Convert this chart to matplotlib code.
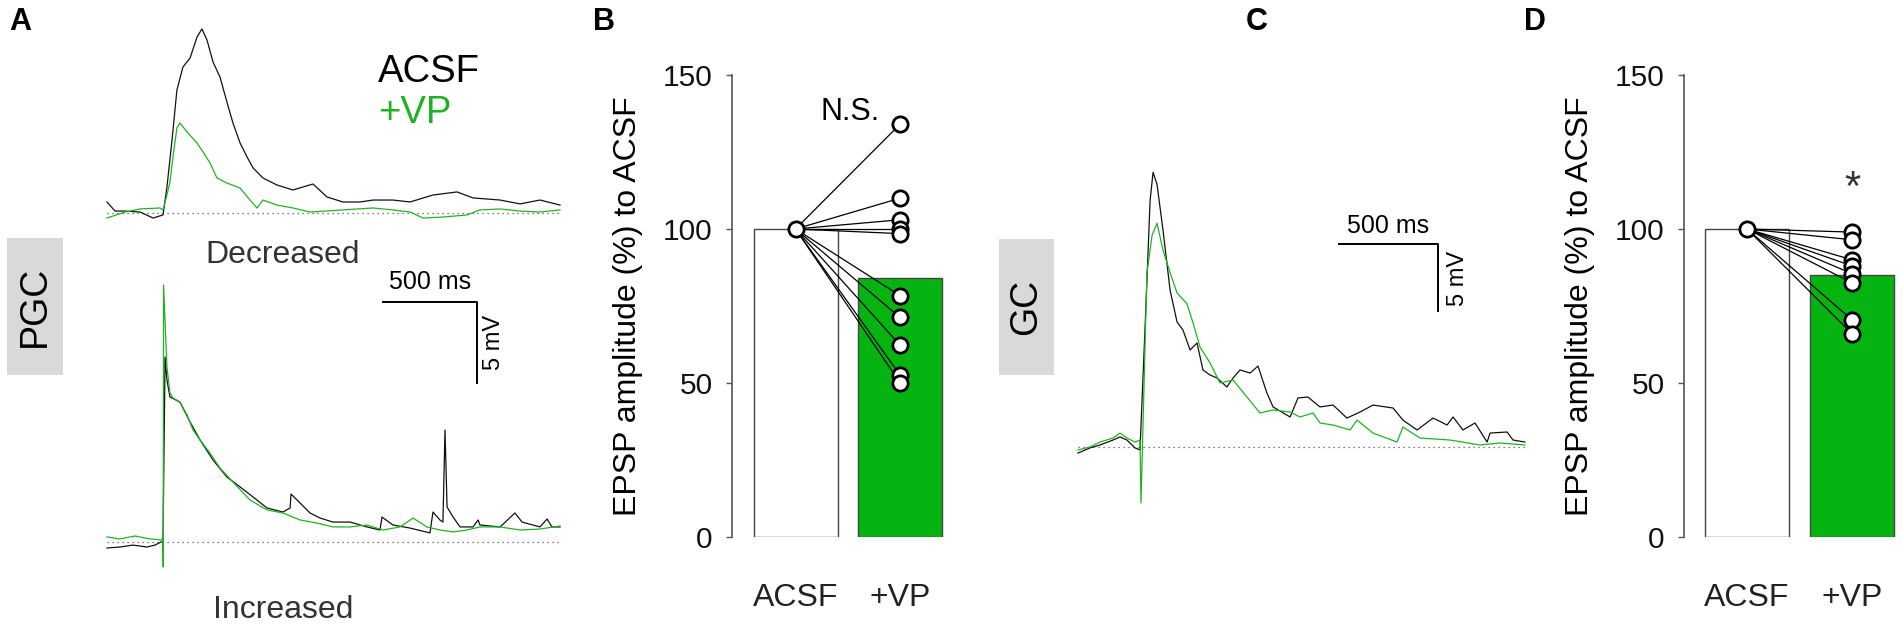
import matplotlib
matplotlib.use("Agg")
import matplotlib.pyplot as plt
from matplotlib.patches import Rectangle

plt.rcParams["font.family"] = ["Liberation Sans", "DejaVu Sans"]

W, H = 1902, 629
GREEN_BAR = "#06b411"
GREEN_TR = "#1fb324"

# ---- panel A traces (time in ms from stimulus, mV above baseline) ----
a_dec_t = [-298, -255, -202, -122, -53, 0, 21, 48, 74, 106, 144, 181, 207, 234, 266, 303, 340,
           372, 410, 447, 479, 532, 606, 691, 798, 872, 957, 1048, 1117, 1223, 1314, 1436, 1564,
           1649, 1793, 1899, 2005, 2112]
a_dec_acsf = [0.68, 0.12, 0.12, 0.06, -0.31, -0.12, 1.60, 4.51, 7.59, 9.01, 9.57, 10.86, 11.36,
              10.68, 9.32, 8.40, 6.85, 5.56, 4.32, 3.46, 2.78, 2.16, 1.73, 1.42, 1.79, 0.99, 0.68,
              0.68, 0.80, 0.80, 0.68, 1.11, 1.30, 0.93, 0.80, 0.56, 0.80, 0.49]
a_dec_vp_t = [-298, -202, -122, -16, 0, 21, 37, 53, 74, 90, 128, 181, 213, 250, 287, 340, 410,
              463, 500, 532, 606, 691, 782, 957, 1117, 1223, 1314, 1383, 1489, 1617, 1686, 1793,
              1899, 2005, 2112]
a_dec_vp = [-0.31, 0.06, 0.25, 0.31, 0.19, 1.11, 1.91, 3.46, 5.25, 5.56, 5.00, 4.32, 3.77, 3.09,
            2.16, 1.85, 1.54, 0.80, 0.31, 0.80, 0.49, 0.31, 0.06, 0.19, 0.31, 0.19, 0.06, -0.31,
            -0.25, -0.12, 0.19, 0.25, 0.12, 0.06, 0.19]

a_inc_t = [-298, -229, -160, -85, -43, 0, 11, 21, 37, 90, 144, 197, 266, 340, 410, 479, 553, 638,
           676, 681, 729, 782, 835, 904, 995, 1085, 1154, 1165, 1223, 1314, 1420, 1436, 1473, 1489,
           1500, 1511, 1543, 1580, 1649, 1676, 1686, 1793, 1872, 1910, 2005, 2043, 2069, 2112]
a_inc_acsf = [-0.37, -0.31, -0.19, -0.31, -0.19, 0.06, 11.42, 10.0, 8.95, 8.64, 7.41, 6.30, 5.06,
              4.01, 3.40, 2.78, 2.10, 1.85, 2.10, 2.96, 2.41, 1.79, 1.48, 1.23, 1.23, 0.93, 0.74,
              1.54, 1.05, 0.86, 0.56, 1.85, 1.36, 1.23, 6.91, 2.16, 1.54, 0.93, 0.93, 1.36, 1.05,
              0.93, 1.79, 1.23, 0.93, 1.42, 0.93, 0.93]
a_inc_vp_t = [-298, -229, -149, -69, 0, 1, 3, 21, 37, 53, 90, 128, 160, 197, 250, 303, 372, 463,
              553, 638, 729, 819, 904, 995, 1085, 1170, 1261, 1330, 1404, 1473, 1543, 1617, 1686,
              1793, 1899, 2005, 2112]
a_inc_vp = [0.31, 0.19, 0.37, 0.19, 0.12, -1.54, 15.86, 10.8, 9.20, 8.89, 8.64, 7.84, 6.91, 6.30,
            5.49, 4.57, 3.70, 2.59, 1.98, 1.79, 1.36, 1.17, 0.93, 0.93, 1.05, 0.74, 0.93, 1.48,
            0.93, 0.74, 0.62, 0.74, 0.93, 0.93, 0.74, 0.80, 0.99]

# ---- panel C traces ----
c_t = [-313, -253, -202, -136, -101, -66, -25, 0, 25, 51, 66, 86, 116, 152, 187, 217, 253, 288,
       318, 354, 389, 439, 470, 505, 556, 596, 641, 672, 758, 798, 848, 909, 975, 1045, 1111,
       1177, 1278, 1328, 1399, 1480, 1551, 1581, 1631, 1692, 1753, 1768, 1854, 1884, 1944]
c_acsf = [-0.45, -0.07, 0.15, 0.52, 0.75, 0.52, -0.07, -0.22, 8.73, 18.4, 20.5, 19.6, 16.2, 11.7,
          9.33, 8.73, 7.24, 7.76, 5.75, 5.37, 5.15, 4.48, 5.15, 5.75, 5.52, 6.04, 4.03, 2.99, 2.24,
          3.66, 3.73, 2.99, 3.13, 2.16, 2.61, 3.13, 2.91, 2.01, 1.27, 2.16, 1.64, 2.24, 1.27, 1.79,
          0.37, 1.04, 1.12, 0.52, 0.37]
c_vp_t = [-313, -253, -202, -136, -101, -66, -25, 0, 5, 35, 61, 86, 116, 152, 187, 237, 268, 303,
          354, 404, 470, 540, 606, 672, 758, 808, 874, 909, 975, 1061, 1096, 1177, 1298, 1328,
          1414, 1566, 1717, 1818, 1944]
c_vp = [-0.22, 0.0, 0.37, 0.67, 1.04, 0.67, 0.37, 0.52, -4.18, 13.0, 15.8, 16.7, 14.7, 13.0, 11.5,
        10.7, 9.25, 7.46, 6.27, 4.78, 5.0, 3.73, 2.54, 2.76, 2.61, 2.24, 2.54, 1.79, 1.64, 1.27,
        2.01, 1.04, 0.37, 1.49, 0.67, 0.52, 0.15, 0.30, 0.15]

# ---- bar panels ----
groups = ["ACSF", "+VP"]
b_means = [100, 84]
b_vp_cells = [134, 110, 103, 100, 98.5, 78.4, 71.3, 62.3, 52.6, 50.1]
d_means = [100, 85]
d_vp_cells = [99, 96.5, 90, 88, 85.5, 82.5, 70.5, 66]

fig = plt.figure(figsize=(W / 100, H / 100), dpi=100)


def px_axes(x0, y0, x1, y1):
    # pixel box (top-left origin) -> figure axes
    return fig.add_axes([x0 / W, 1 - y1 / H, (x1 - x0) / W, (y1 - y0) / H])


def trace_axes(x0, y0, x1, y1, x_stim, y_base, px_ms, px_mv):
    ax = px_axes(x0, y0, x1, y1)
    ax.set_xlim((x0 - x_stim) / px_ms, (x1 - x_stim) / px_ms)
    ax.set_ylim((y_base - y1) / px_mv, (y_base - y0) / px_mv)
    ax.set_axis_off()
    return ax


def ftext(x, y, s, **kw):
    fig.text(x / W, 1 - y / H, s, **kw)


# A, decreased
ax = trace_axes(100, 20, 570, 232, 163, 213, 94 / 500, 81 / 5)
ax.plot([-298, 2112], [0, 0], color="#555555", lw=0.9, ls=(0, (1, 3)))
ax.plot(a_dec_t, a_dec_acsf, color="#111111", lw=0.9)
ax.plot(a_dec_vp_t, a_dec_vp, color=GREEN_TR, lw=0.9)

# A, increased
ax = trace_axes(100, 270, 570, 580, 163, 542, 94 / 500, 81 / 5)
ax.plot([-298, 2112], [0, 0], color="#555555", lw=0.9, ls=(0, (1, 3)))
ax.plot(a_inc_t, a_inc_acsf, color="#111111", lw=0.9)
ax.plot(a_inc_vp_t, a_inc_vp, color=GREEN_TR, lw=0.9)
ax.plot([1170, 1670, 1670], [14.8, 14.8, 9.8], color="black", lw=1.4)
ax.text(1420, 15.3, "500 ms", ha="center", va="bottom", fontsize=18)
ax.text(1760, 12.3, "5 mV", ha="center", va="center", rotation=90, fontsize=17)

# C traces
ax = trace_axes(1070, 150, 1535, 510, 1140, 447, 99 / 500, 67 / 5)
ax.plot([-313, 1944], [0, 0], color="#555555", lw=0.9, ls=(0, (1, 3)))
ax.plot(c_t, c_acsf, color="#111111", lw=0.9)
ax.plot(c_vp_t, c_vp, color=GREEN_TR, lw=0.9)
ax.plot([1005, 1505, 1505], [15.15, 15.15, 10.15], color="black", lw=1.4)
ax.text(1255, 15.6, "500 ms", ha="center", va="bottom", fontsize=18)
ax.text(1606, 12.6, "5 mV", ha="center", va="center", rotation=90, fontsize=17)


def bar_panel(x_axis, x_right, x_first, step, means, cells):
    ax = px_axes(x_axis, 75, x_right, 537)
    ax.set_ylim(0, 150)
    ax.set_xlim((x_axis - x_first) / step, (x_right - x_first) / step)
    ax.bar([0, 1], means, width=84 / step, color=["white", GREEN_BAR],
           edgecolor="#444444", linewidth=1.0)
    for v in cells:
        ax.plot([0, 1], [100, v], color="black", lw=0.9, zorder=3)
    ax.plot([1] * len(cells), cells, "o", ms=11, mfc="white", mec="black", mew=2.0, zorder=4)
    ax.plot([0], [100], "o", ms=11, mfc="white", mec="black", mew=2.0, zorder=4)
    for s in ["top", "right", "bottom"]:
        ax.spines[s].set_visible(False)
    ax.spines["left"].set_color("#555555")
    ax.spines["left"].set_linewidth(1.2)
    ax.set_yticks([0, 50, 100, 150])
    ax.tick_params(axis="y", length=4, width=1, color="#555555", labelsize=21.5, pad=10,
                   labelcolor="#111111")
    ax.set_xticks([0, 1])
    ax.set_xticklabels(groups)
    ax.tick_params(axis="x", length=0, labelsize=23, pad=33, labelcolor="#222222")
    ax.set_ylabel("EPSP amplitude (%) to ACSF", fontsize=23, labelpad=14)
    return ax


ax = bar_panel(732, 960, 795.5, 104.5, b_means, b_vp_cells)
ax.text(0.52, 138, "N.S.", ha="center", va="center", fontsize=22)

ax = bar_panel(1684, 1902, 1747, 105, d_means, d_vp_cells)
ax.text(1, 113, "*", ha="center", va="center", fontsize=30, color="#333333")

# labels and boxes
for x, y, s in [(20, 22, "A"), (604, 22, "B"), (1257, 22, "C"), (1535, 22, "D")]:
    ftext(x, y, s, ha="center", va="center", fontsize=22, fontweight="bold")

ftext(378, 72, "ACSF", ha="left", va="center", fontsize=27.5)
ftext(378, 113, "+VP", ha="left", va="center", fontsize=27.5, color=GREEN_TR)
ftext(283, 255, "Decreased", ha="center", va="center", fontsize=23, color="#333333")
ftext(283, 610, "Increased", ha="center", va="center", fontsize=23, color="#333333")

for x0, x1, y0, y1, s in [(7, 63, 238, 375, "PGC"), (999, 1054, 239, 375, "GC")]:
    fig.patches.append(Rectangle((x0 / W, 1 - y1 / H), (x1 - x0) / W, (y1 - y0) / H,
                                 transform=fig.transFigure, facecolor="#d9d9d9",
                                 edgecolor="none"))
    ftext((x0 + x1) / 2, (y0 + y1) / 2, s, ha="center", va="center", rotation=90,
          fontsize=27)

fig.savefig("out.png", dpi=100)
